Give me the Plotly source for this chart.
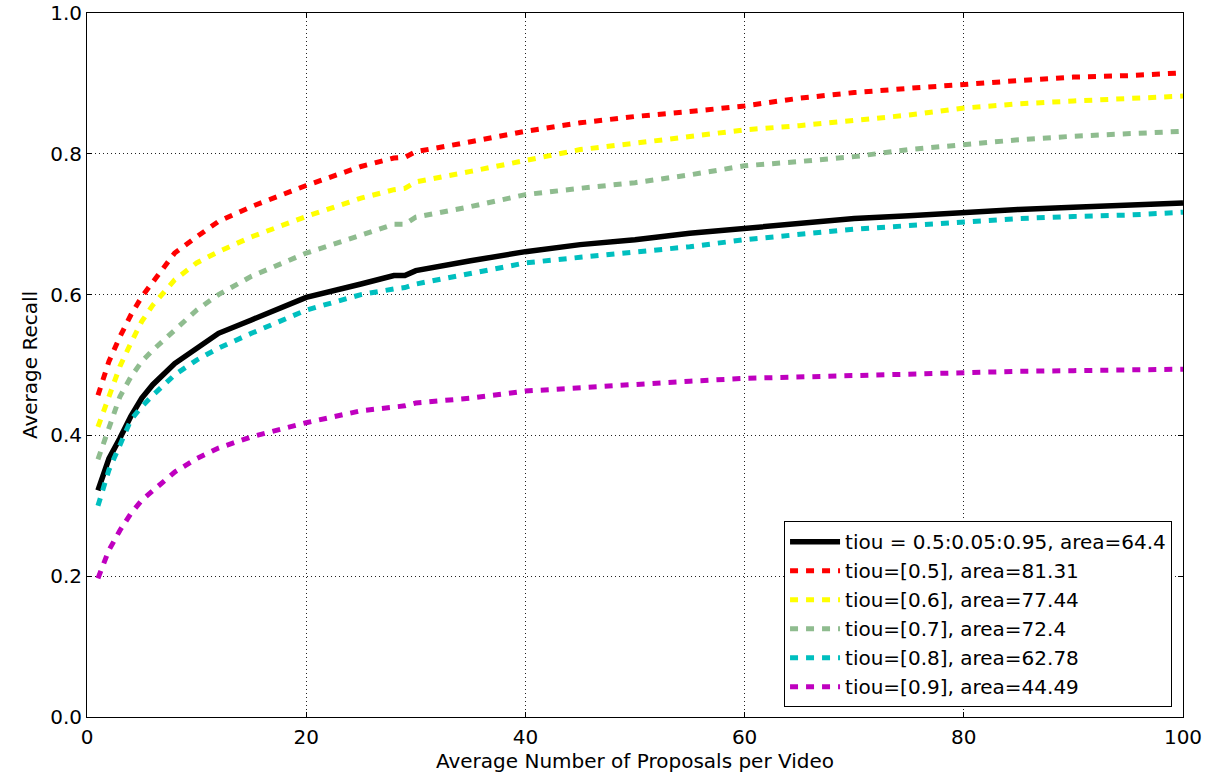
import plotly.graph_objects as go

proposals = [1, 2, 3, 4, 5, 6, 8, 10, 12, 15, 20, 25, 28, 29, 30, 35, 40, 45,
             50, 55, 60, 65, 70, 75, 80, 85, 90, 95, 100]

recall_avg = [0.322, 0.367, 0.396, 0.427, 0.453, 0.472, 0.502, 0.524, 0.545, 0.564,
              0.596, 0.615, 0.627, 0.627, 0.634, 0.648, 0.661, 0.671, 0.678, 0.687,
              0.694, 0.701, 0.708, 0.712, 0.717, 0.721, 0.724, 0.727, 0.730]
recall_05 = [0.457, 0.505, 0.540, 0.571, 0.597, 0.618, 0.659, 0.682, 0.704, 0.725,
             0.755, 0.782, 0.794, 0.795, 0.803, 0.817, 0.832, 0.844, 0.853, 0.860,
             0.868, 0.879, 0.887, 0.893, 0.899, 0.904, 0.909, 0.911, 0.915]
recall_06 = [0.412, 0.457, 0.498, 0.531, 0.562, 0.585, 0.621, 0.645, 0.661, 0.682,
             0.711, 0.737, 0.749, 0.751, 0.760, 0.775, 0.791, 0.806, 0.815, 0.825,
             0.834, 0.840, 0.848, 0.855, 0.865, 0.871, 0.875, 0.879, 0.882]
recall_07 = [0.366, 0.412, 0.455, 0.483, 0.505, 0.521, 0.550, 0.578, 0.600, 0.626,
             0.659, 0.685, 0.700, 0.700, 0.710, 0.725, 0.742, 0.751, 0.759, 0.770,
             0.783, 0.789, 0.796, 0.806, 0.813, 0.820, 0.825, 0.828, 0.832]
recall_08 = [0.300, 0.351, 0.386, 0.422, 0.441, 0.457, 0.486, 0.507, 0.524, 0.545,
             0.578, 0.600, 0.608, 0.610, 0.615, 0.630, 0.645, 0.653, 0.660, 0.668,
             0.678, 0.685, 0.693, 0.698, 0.703, 0.708, 0.711, 0.713, 0.717]
recall_09 = [0.197, 0.237, 0.265, 0.289, 0.308, 0.322, 0.348, 0.367, 0.382, 0.398,
             0.418, 0.435, 0.441, 0.442, 0.446, 0.453, 0.463, 0.468, 0.473, 0.477,
             0.481, 0.483, 0.486, 0.488, 0.489, 0.491, 0.492, 0.493, 0.494]

labels = [
    "tiou = 0.5:0.05:0.95, area=64.4",
    "tiou=[0.5], area=81.31",
    "tiou=[0.6], area=77.44",
    "tiou=[0.7], area=72.4",
    "tiou=[0.8], area=62.78",
    "tiou=[0.9], area=44.49",
]

series = [recall_avg, recall_05, recall_06, recall_07, recall_08, recall_09]
colors = ["#000000", "#ff0000", "#ffff00", "#8fbc8f", "#00bfbf", "#bf00bf"]

FONT = dict(family="DejaVu Sans", size=20, color="black")

fig = go.Figure()
for i, (ys, name, col) in enumerate(zip(series, labels, colors)):
    if i == 0:
        line = dict(color=col, width=5.5)
    else:
        line = dict(color=col, width=5, dash="8px,8px")
    fig.add_trace(go.Scatter(x=proposals, y=ys, mode="lines", name=name, line=line))

axis_common = dict(
    showline=True, linecolor="black", linewidth=1, mirror="ticks",
    ticks="inside", ticklen=5, tickcolor="black",
    showgrid=True, gridcolor="#222222", gridwidth=1, griddash="1px,3px",
    zeroline=False, automargin=False, ticklabeloverflow="allow",
    tickfont=FONT,
)

fig.update_xaxes(range=[0, 100], tickvals=[0, 20, 40, 60, 80, 100],
                 ticklabelstandoff=2,
                 title=dict(text="Average Number of Proposals per Video",
                            font=FONT, standoff=1),
                 **axis_common)
fig.update_yaxes(range=[0, 1.0], tickvals=[0, 0.2, 0.4, 0.6, 0.8, 1.0],
                 tickformat=".1f", ticklabelstandoff=0,
                 title=dict(text="Average Recall", font=FONT, standoff=7),
                 **axis_common)

fig.update_layout(
    width=1209, height=777,
    margin=dict(l=87, r=26, t=13, b=60),
    plot_bgcolor="white", paper_bgcolor="white",
    font=FONT,
    legend=dict(x=0.99, y=0.014, xanchor="right", yanchor="bottom",
                bordercolor="black", borderwidth=1, bgcolor="white",
                font=FONT, tracegroupgap=0, itemwidth=50),
    showlegend=True,
)

# drop the page's default body margin so the figure sits at the window corner
fig.write_html("out.html", config={"displayModeBar": False},
               post_script="document.body.style.margin = '0';")
